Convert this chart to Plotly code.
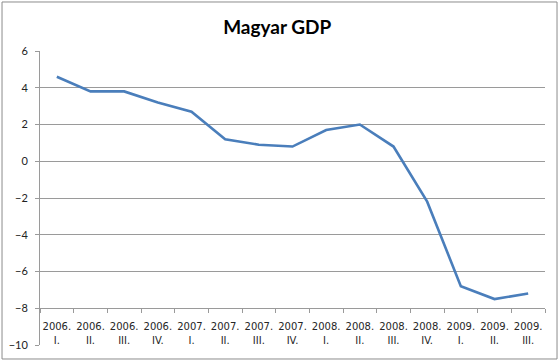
import plotly.graph_objects as go

years = ["2006.", "2006.", "2006.", "2006.", "2007.", "2007.", "2007.", "2007.",
         "2008.", "2008.", "2008.", "2008.", "2009.", "2009.", "2009."]
quarters = ["I.", "II.", "III.", "IV.", "I.", "II.", "III.", "IV.",
            "I.", "II.", "III.", "IV.", "I.", "II.", "III."]
gdp = [4.6, 3.8, 3.8, 3.2, 2.7, 1.2, 0.9, 0.8, 1.7, 2.0, 0.8, -2.2, -6.8, -7.5, -7.2]
y_ticks = [6, 4, 2, 0, -2, -4, -6, -8, -10]

cats = [f"{y} {q}" for y, q in zip(years, quarters)]

fig = go.Figure()
fig.add_trace(go.Scatter(x=cats, y=gdp, mode="lines",
                         line=dict(color="#4A7EBB", width=2.6), showlegend=False))
# helper trace so the second category axis (quarter labels) has the same categories
fig.add_trace(go.Scatter(x=cats, y=gdp, xaxis="x2", mode="lines", line=dict(width=0),
                         opacity=0, hoverinfo="skip", showlegend=False))

grid = "#9a9a9a"
tick_font = dict(family="DejaVu Sans, Verdana, sans-serif", size=10, color="#262626")
fig.update_layout(
    width=560, height=362,
    margin=dict(l=40, r=15, t=51, b=17, autoexpand=False),
    paper_bgcolor="white", plot_bgcolor="white",
    title=dict(text="<b>Magyar GDP</b>", x=0.495, xanchor="center", y=0.925, yanchor="middle",
               font=dict(family="Lato", size=19, color="black"), automargin=False),
    xaxis=dict(type="category", tickmode="array", tickvals=cats, ticktext=years,
               tickson="boundaries", ticks="outside", ticklen=4, tickcolor=grid,
               showline=True, linecolor=grid, linewidth=1, showgrid=False,
               anchor="free", position=0.125, tickangle=0, ticklabelstandoff=9,
               tickfont=tick_font, range=[-0.5, 14.5], automargin=False),
    xaxis2=dict(type="category", overlaying="x", tickmode="array", tickvals=cats, ticktext=quarters,
                ticks="", showline=False, showgrid=False, anchor="free", position=0.125,
                side="bottom", tickangle=0, ticklabelstandoff=25, tickfont=tick_font,
                range=[-0.5, 14.5], automargin=False),
    yaxis=dict(range=[-10, 6], tickvals=y_ticks, showgrid=True, gridcolor=grid, gridwidth=1,
               zeroline=False, showline=True, linecolor=grid, linewidth=1,
               ticks="outside", ticklen=4, tickcolor=grid, ticklabelstandoff=5,
               tickfont=dict(family="Lato", size=11, color="#222"), automargin=False),
    shapes=[dict(type="rect", xref="paper", yref="paper",
                 x0=-0.0752, x1=1.0238, y0=-0.0476, y1=1.1667,
                 line=dict(color="#8c8c8c", width=1))],
)
fig.write_html("out.html", config={"displayModeBar": False},
               post_script="document.body.style.margin='0';document.body.style.overflow='hidden';")
